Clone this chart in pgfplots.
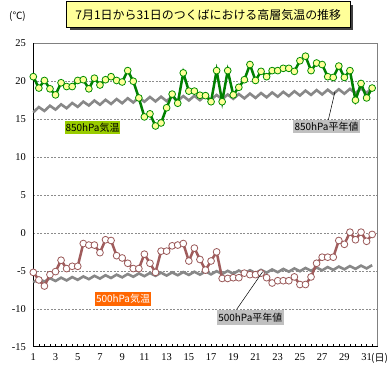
\documentclass[border=0pt]{standalone}
\usepackage{pgfplots}
\pgfplotsset{compat=1.18}
\usepackage{pgfplotstable}
\usepackage{fontspec}
\setmainfont{Liberation Serif}
\newfontfamily\jp{Noto Sans CJK JP}
\definecolor{yel}{HTML}{FFFF99}
\definecolor{gline}{HTML}{008000}
\definecolor{gedge}{HTML}{008C00}
\definecolor{lime850}{HTML}{99CC00}
\definecolor{or500}{HTML}{FF6600}
\definecolor{glab}{HTML}{C0C0C0}
\definecolor{ngray}{HTML}{888888}
\definecolor{brn}{HTML}{A05C5C}
\definecolor{brnedge}{HTML}{9A5858}
\pgfplotstableread{
d t850 n850 t500 n500
1.0 20.6 15.90 -5.2 -6.50
1.5 19.1 16.59 -6.2 -6.06
2.0 20.1 16.08 -7.0 -6.42
2.5 19.0 16.77 -5.5 -5.98
3.0 18.2 16.26 -5.1 -6.34
3.5 19.8 16.95 -3.6 -5.90
4.0 19.3 16.44 -4.7 -6.26
4.5 19.3 17.13 -4.4 -5.82
5.0 20.1 16.62 -4.4 -6.18
5.5 20.2 17.31 -1.4 -5.74
6.0 19.0 16.80 -1.6 -6.10
6.5 20.4 17.45 -1.6 -5.66
7.0 19.5 16.90 -2.6 -6.02
7.5 20.2 17.55 -0.9 -5.58
8.0 20.6 17.00 -1.0 -5.94
8.5 20.1 17.65 -3.0 -5.50
9.0 19.9 17.10 -3.3 -5.86
9.5 21.4 17.75 -4.0 -5.42
10.0 20.0 17.20 -4.7 -5.78
10.5 17.8 17.85 -4.7 -5.34
11.0 15.3 17.30 -2.8 -5.70
11.5 15.7 17.92 -4.0 -5.28
12.0 14.1 17.34 -5.2 -5.66
12.5 14.5 17.96 -2.4 -5.24
13.0 16.5 17.38 -2.4 -5.62
13.5 18.3 18.00 -1.7 -5.20
14.0 17.1 17.42 -1.6 -5.58
14.5 21.1 18.04 -1.4 -5.16
15.0 18.7 17.46 -3.7 -5.54
15.5 18.7 18.08 -2.0 -5.12
16.0 18.15 17.50 -3.5 -5.50
16.5 18.1 18.13 -4.9 -5.08
17.0 17.3 17.56 -3.7 -5.46
17.5 21.4 18.19 -2.5 -5.04
18.0 17.3 17.62 -6.0 -5.42
18.5 21.4 18.25 -6.0 -5.00
19.0 18.2 17.68 -5.9 -5.38
19.5 19.2 18.31 -5.9 -4.96
20.0 20.2 17.74 -5.3 -5.34
20.5 22.2 18.37 -5.5 -4.92
21.0 20.1 17.80 -5.5 -5.30
21.5 21.3 18.44 -5.3 -4.87
22.0 20.6 17.88 -5.9 -5.24
22.5 21.4 18.52 -6.6 -4.81
23.0 21.4 17.96 -6.3 -5.18
23.5 21.7 18.60 -6.3 -4.75
24.0 21.7 18.04 -6.3 -5.11
24.5 21.3 18.68 -5.8 -4.68
25.0 22.7 18.12 -6.8 -5.05
25.5 23.3 18.76 -6.8 -4.62
26.0 21.4 18.20 -5.8 -4.99
26.5 22.4 18.83 -4.0 -4.56
27.0 22.2 18.25 -3.2 -4.93
27.5 20.6 18.88 -3.2 -4.50
28.0 20.5 18.31 -3.2 -4.87
28.5 22.0 18.94 -1.0 -4.44
29.0 20.5 18.36 -1.5 -4.80
29.5 21.4 18.99 0.1 -4.37
30.0 17.5 18.42 -0.9 -4.74
30.5 19.7 19.05 0.1 -4.31
31.0 17.8 18.47 -1.1 -4.68
31.5 19.1 19.10 -0.2 -4.25
}\data
\begin{document}
\begin{tikzpicture}
\useasboundingbox (0bp,0bp) rectangle (390bp,-389bp);
\fill[white] (0bp,0bp) rectangle (390bp,-389bp);
\begin{axis}[
  at={(33.3bp,-346.7bp)}, anchor=south west,
  scale only axis, width=344.4bp, height=303.4bp,
  xmin=1, xmax=32, ymin=-15, ymax=25,
  clip=false,
  axis line style={draw=none},
  xtick={1,3,...,31},
  xticklabels={1,3,5,7,9,11,13,15,17,19,21,23,25,27,29,31},
  minor xtick={1,1.5,...,32},
  ytick={-15,-10,-5,0,5,10,15,20,25},
  yticklabels={-15,-10,-5,0,5,10,15,20,25},
  xtick pos=bottom, ytick pos=left,
  tick align=inside,
  major tick length=2.5bp, minor tick length=2.5bp,
  xtick style={black, line width=0.5bp},
  ytick style={draw=none},
  ymajorgrids,
  grid style={dash pattern=on 2bp off 1.5bp, color=gray!90, line width=0.5bp},
  ticklabel style={font=\fontsize{10.5}{12}\selectfont},
  xticklabel style={yshift=-3bp},
  yticklabel style={xshift=-4bp},
]
\draw[gray, line width=0.8bp] (rel axis cs:0,1) -- (rel axis cs:1,1) -- (rel axis cs:1,0);
\draw[black, line width=0.8bp] (rel axis cs:0,1) -- (rel axis cs:0,0) -- (rel axis cs:1,0);
\addplot[color=ngray, line width=2.6bp, no marks] table[x=d,y=n850]{\data};
\addplot[color=ngray, line width=2.6bp, no marks] table[x=d,y=n500]{\data};
\addplot[color=gline, line width=2.5bp, mark=*, mark size=3.4bp,
  mark options={fill=yel, draw=gedge, line width=0.8bp}] table[x=d,y=t850]{\data};
\addplot[color=brn, line width=2.5bp, mark=*, mark size=3.4bp,
  mark options={fill=white, draw=brnedge, line width=0.8bp}] table[x=d,y=t500]{\data};
\end{axis}
% title
\fill[black!75] (69.7bp,-4.7bp) rectangle (353bp,-30.3bp);
\draw[draw=black, fill=yel, line width=0.8bp] (66.7bp,-1.7bp) rectangle (350bp,-27.3bp);
\node[font=\jp\fontsize{12}{14}\selectfont, inner sep=0pt, text=black] at (208.3bp,-14.5bp) {7月1日から31日のつくばにおける高層気温の推移};
\node[font=\jp\fontsize{10}{12}\selectfont, inner sep=0pt] at (17.5bp,-16bp) {(℃)};
\node[font=\jp\fontsize{10}{12}\selectfont, inner sep=0pt, anchor=west] at (371bp,-358.5bp) {(日)};
% labels
\draw[black, line width=0.5bp] (328.3bp,-120bp) -- (335bp,-91.7bp);
\draw[black, line width=0.5bp] (236.7bp,-309.3bp) -- (262.7bp,-271.7bp);
\node[fill=lime850, inner sep=0pt, minimum width=55bp, minimum height=13bp, font=\jp\fontsize{10}{12}\selectfont] at (92.5bp,-127.5bp) {850hPa気温};
\node[fill=glab, inner sep=0pt, minimum width=67bp, minimum height=13bp, font=\jp\fontsize{10}{12}\selectfont] at (326.5bp,-126.5bp) {850hPa平年値};
\node[fill=or500, text=white, inner sep=0pt, minimum width=56bp, minimum height=14bp, font=\jp\fontsize{10}{12}\selectfont] at (123bp,-298.7bp) {500hPa気温};
\node[fill=glab, inner sep=0pt, minimum width=67bp, minimum height=15bp, font=\jp\fontsize{10}{12}\selectfont] at (250.3bp,-317.5bp) {500hPa平年値};
\end{tikzpicture}
\end{document}
